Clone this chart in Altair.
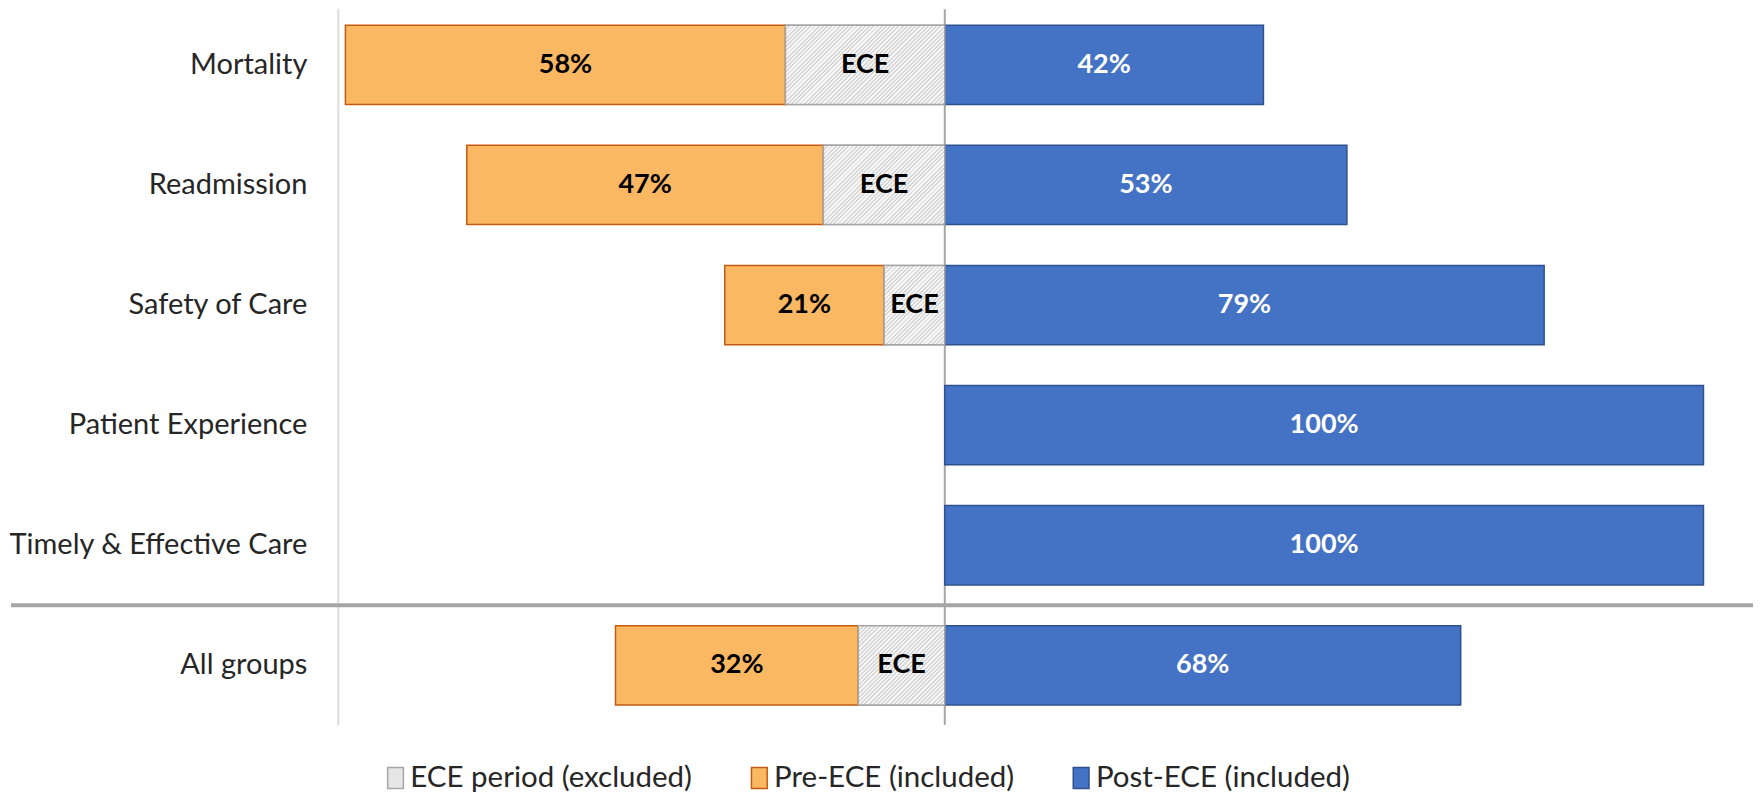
import altair as alt
import pandas as pd

# ---- data ----
categories = ["Mortality", "Readmission", "Safety of Care", "Patient Experience",
              "Timely & Effective Care", "All groups"]
pre_ece = [58, 47, 21, 0, 0, 32]          # % included before ECE (left, orange)
ece_period = [21, 16, 8, 0, 0, 11.4]      # width of excluded ECE period (hatched)
post_ece = [42, 53, 79, 100, 100, 68]     # % included after ECE (right, blue)
series = ["ECE period (excluded)", "Pre-ECE (included)", "Post-ECE (included)"]

# ---- styling / layout ----
W, H = 1412, 717
XMIN, XMAX = -80, 106
PXU = W / (XMAX - XMIN)
N = len(categories)
P_IN = 0.34
STEP = 120.17
FIRST_BAR_TOP = 17
P_OUT = ((H / STEP) - (N - P_IN)) / 2
ALIGN = FIRST_BAR_TOP / (H - STEP * (N - P_IN))
BAR_H = STEP * (1 - P_IN)
SEP_Y = FIRST_BAR_TOP - STEP * P_IN / 2 + 5 * STEP
FONT = "Lato"
fills = ["#E6E6E6", "#FBB863", "#4472C4"]
strokes = ["#A6A6A6", "#C55A11", "#2F528F"]

rows = []
for c, p, e, q in zip(categories, pre_ece, ece_period, post_ece):
    if e > 0:
        rows.append(dict(cat=c, series=series[0], x=-e, x2=0, label="ECE"))
    if p > 0:
        rows.append(dict(cat=c, series=series[1], x=-(p + e), x2=-e, label=f"{p}%"))
    if q > 0:
        rows.append(dict(cat=c, series=series[2], x=0, x2=q, label=f"{q}%"))
df = pd.DataFrame(rows)

xscale = alt.Scale(domain=[XMIN, XMAX], nice=False, zero=False)
yscale = alt.Scale(domain=categories, paddingInner=P_IN, paddingOuter=P_OUT, align=ALIGN)
Y = alt.Y("cat:N", sort=categories, scale=yscale,
          axis=alt.Axis(title=None, labelFont=FONT, labelFontSize=29, labelColor="#262626",
                        ticks=False, domain=True, domainColor="#DDDDDD", domainWidth=2,
                        labelPadding=31, minExtent=329, maxExtent=329, labelLimit=400))

base = alt.Chart(df)

center = alt.Chart(pd.DataFrame({"x": [0]})).mark_rule(color="#A6A6A6", strokeWidth=2).encode(
    x=alt.X("x:Q", scale=xscale, axis=None), y=alt.value(1), y2=alt.value(H))

bars = base.mark_bar(strokeWidth=1.5, size=BAR_H).encode(
    x=alt.X("x:Q", scale=xscale, axis=None),
    x2="x2:Q",
    y=Y,
    color=alt.Color("series:N", scale=alt.Scale(domain=series, range=fills),
                    legend=alt.Legend(title=None)),
    stroke=alt.Stroke("series:N", scale=alt.Scale(domain=series, range=strokes),
                      legend=alt.Legend(title=None)),
)

# hatched overlay for ECE period segments (45 degree stripes)
hatch_layers = []
PITCH_X = 4.2
for c, e in zip(categories, ece_period):
    if e <= 0:
        continue
    w = e * PXU
    b = BAR_H / w
    k = (1 + b) / (1 + b * b)
    per = PITCH_X / ((1 + b) * w)
    stops = []
    t = 0.0
    while t < 1.0:
        t1 = min(t + per * 0.45, 1.0)
        t2 = min(t + per, 1.0)
        stops += [alt.GradientStop(offset=t, color="#D6D6D6"),
                  alt.GradientStop(offset=t1, color="#D6D6D6"),
                  alt.GradientStop(offset=t1, color="#F6F6F6"),
                  alt.GradientStop(offset=t2, color="#F6F6F6")]
        t = t2
    grad = alt.LinearGradient(gradient="linear", stops=stops, x1=0, y1=0, x2=k, y2=k * b)
    sub = df[(df.cat == c) & (df.series == series[0])]
    hatch_layers.append(
        alt.Chart(sub).mark_bar(color=grad, stroke="#A6A6A6", strokeWidth=1.5, size=BAR_H).encode(
            x=alt.X("x:Q", scale=xscale, axis=None), x2="x2:Q", y=Y))

labels = base.transform_calculate(mid="(datum.x + datum.x2) / 2").mark_text(
    font=FONT, fontSize=27, fontWeight="bold", baseline="middle", align="center").encode(
    x=alt.X("mid:Q", scale=xscale, axis=None),
    y=Y,
    text="label:N",
    color=alt.condition(alt.datum.series == series[2], alt.value("#FFFFFF"), alt.value("#000000")),
)

sep = alt.Chart(pd.DataFrame({"v": [0]})).mark_rule(color="#A6A6A6", strokeWidth=4).encode(
    x=alt.value(-327), x2=alt.value(W + 4), y=alt.value(SEP_Y))

chart = alt.layer(center, bars, *hatch_layers, labels, sep).properties(
    width=W, height=H, padding=0).configure_view(
    stroke=None).configure_legend(
    orient="none", legendX=43, legendY=755, direction="horizontal", padding=0,
    labelFont=FONT, labelFontSize=29.5, labelColor="#262626", labelOffset=0,
    columnPadding=52, symbolType="M-0.75,-1H0.75V1H-0.75Z", symbolSize=441,
    symbolStrokeWidth=1.5, labelLimit=500)

chart.save("out.html", embed_options={"renderer": "svg", "actions": False})
